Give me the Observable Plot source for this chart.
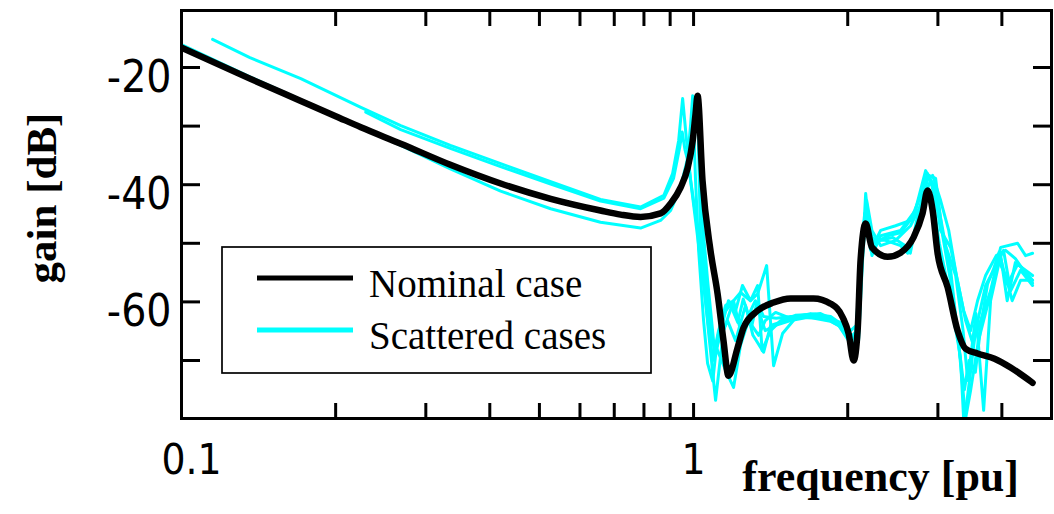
<!DOCTYPE html>
<html><head><meta charset="utf-8">
<script src="https://cdn.jsdelivr.net/npm/d3@7"></script>
<script src="https://cdn.jsdelivr.net/npm/@observablehq/plot@0.6"></script>
<style>body{margin:0;background:#fff}#chart{width:1054px;height:514px}</style>
</head><body><div id="chart"></div>
<script>
// [frequency (pu), gain (dB)]
const nominal = [[0.1,-16.6],[0.136,-21.9],[0.171,-25.7],[0.2,-28.3],[0.224,-30.2],[0.268,-33.0],[0.335,-36.6],[0.42,-39.8],[0.526,-42.4],[0.658,-44.4],[0.72,-45.1],[0.788,-45.5],[0.862,-44.9],[0.902,-43.2],[0.943,-40.5],[0.974,-37.1],[0.996,-32.5],[1.009,-27.9],[1.018,-24.8],[1.041,-39.3],[1.079,-51.2],[1.114,-58.6],[1.144,-66.6],[1.17,-72.6],[1.219,-67.8],[1.252,-64.4],[1.334,-61.5],[1.433,-60.1],[1.547,-59.4],[1.715,-59.4],[1.852,-60.3],[1.957,-62.7],[2.008,-65.4],[2.054,-70.0],[2.091,-64.9],[2.119,-52.9],[2.168,-46.6],[2.23,-50.7],[2.393,-52.3],[2.537,-51.6],[2.689,-49.0],[2.8,-44.9],[2.864,-41.0],[2.93,-44.4],[2.996,-51.7],[3.134,-57.5],[3.278,-64.9],[3.398,-68.0],[3.586,-68.8],[3.87,-69.7],[4.16,-71.2],[4.592,-73.8]];

const scattered1 = [[0.115,-15.2],[0.136,-18.3],[0.171,-21.9],[0.224,-26.8],[0.268,-29.9],[0.335,-33.3],[0.42,-36.4],[0.526,-39.5],[0.658,-42.5],[0.788,-43.8],[0.875,-41.8],[0.91,-38.1],[0.935,-32.5],[0.952,-25.3],[0.969,-32.5],[0.987,-39.3],[1.032,-51.2],[1.069,-64.9],[1.104,-76.8],[1.144,-64.9],[1.197,-59.8],[1.235,-58.4],[1.292,-59.8],[1.334,-58.6],[1.389,-53.8],[1.433,-70.9],[1.492,-65.4],[1.58,-62.8],[1.692,-62.3],[1.81,-62.8],[1.92,-64.0],[2.008,-66.6],[2.054,-68.3],[2.119,-58.1],[2.168,-41.5],[2.23,-52.1],[2.319,-48.7],[2.537,-47.8],[2.71,-44.4],[2.839,-37.6],[2.943,-40.1],[3.037,-47.8],[3.177,-50.7],[3.398,-63.2],[3.51,-67.1],[3.635,-63.2],[3.802,-58.1],[3.978,-50.7],[4.293,-50.0],[4.45,-52.1],[4.592,-51.7]];

const scattered2 = [[0.229,-27.6],[0.268,-30.6],[0.335,-33.8],[0.42,-36.9],[0.526,-39.9],[0.658,-42.8],[0.788,-44.1],[0.875,-42.3],[0.914,-38.9],[0.94,-33.5],[0.95,-31.0],[0.962,-34.0],[0.978,-36.5],[1.009,-46.1],[1.055,-59.8],[1.089,-70.0],[1.114,-67.1],[1.165,-63.2],[1.208,-66.6],[1.263,-60.6],[1.306,-65.7],[1.37,-68.6],[1.414,-64.0],[1.51,-63.2],[1.618,-62.3],[1.77,-62.0],[1.894,-63.2],[2.008,-65.7],[2.072,-65.7],[2.119,-54.6],[2.158,-44.9],[2.217,-50.4],[2.393,-48.7],[2.537,-48.2],[2.689,-45.3],[2.864,-38.1],[2.969,-41.0],[3.106,-50.4],[3.249,-55.5],[3.36,-64.9],[3.43,-73.4],[3.49,-68.3],[3.56,-62.0],[3.685,-78.5],[3.802,-59.8],[3.978,-52.1],[4.097,-59.8],[4.25,-53.3],[4.592,-55.5]];

const scattered3 = [[0.1,-16.1],[0.136,-21.6],[0.199,-28.1],[0.268,-33.3],[0.335,-37.3],[0.42,-41.1],[0.526,-44.1],[0.658,-46.4],[0.788,-47.4],[0.862,-46.1],[0.902,-44.4],[0.943,-40.5],[0.974,-35.4],[0.987,-29.6],[0.996,-24.8],[1.009,-39.3],[1.023,-51.2],[1.046,-63.2],[1.065,-70.5],[1.09,-73.5],[1.114,-66.0],[1.144,-62.0],[1.18,-60.5],[1.22,-63.5],[1.25,-59.5],[1.3,-64.0],[1.33,-60.0],[1.37,-62.5],[1.45,-62.8],[1.55,-62.5],[1.7,-62.7],[1.85,-63.3],[1.96,-64.5],[2.03,-66.0],[2.08,-65.0],[2.13,-50.0],[2.16,-45.5],[2.21,-49.0],[2.3,-49.5],[2.45,-49.0],[2.6,-50.5],[2.65,-51.7],[2.72,-46.5],[2.8,-42.0],[2.86,-40.5],[2.93,-42.5],[3.02,-50.0],[3.15,-58.0],[3.3,-68.0],[3.38,-75.0],[3.45,-70.0],[3.55,-72.0],[3.64,-64.0],[3.75,-57.0],[3.85,-54.5],[3.95,-51.5],[4.1,-57.0],[4.3,-53.5],[4.592,-56.3]];

const scattered4 = [[0.862,-44.9],[0.902,-43.2],[0.943,-40.5],[0.974,-37.1],[0.996,-32.5],[1.009,-28.0],[1.018,-25.0],[1.032,-42.7],[1.065,-56.3],[1.094,-66.6],[1.155,-71.7],[1.197,-74.6],[1.235,-67.4],[1.28,-63.2],[1.34,-65.7],[1.38,-63.2],[1.446,-61.8],[1.547,-62.8],[1.692,-62.0],[1.852,-62.5],[1.957,-64.0],[2.045,-67.4],[2.1,-66.6],[2.138,-52.9],[2.178,-42.7],[2.23,-47.8],[2.319,-50.4],[2.48,-49.5],[2.653,-47.0],[2.776,-43.5],[2.88,-38.4],[2.969,-38.9],[3.065,-48.7],[3.2,-58.1],[3.323,-70.0],[3.368,-79.9],[3.42,-76.8],[3.554,-64.9],[3.718,-57.2],[3.9,-53.8],[4.03,-51.2],[4.16,-58.1],[4.351,-54.6],[4.592,-57.2]];

const scattered5 = [[0.862,-44.9],[0.902,-43.2],[0.943,-40.5],[0.974,-37.1],[0.996,-32.5],[1.009,-28.0],[1.018,-25.2],[1.046,-51.2],[1.079,-64.9],[1.104,-69.1],[1.129,-64.9],[1.17,-59.8],[1.208,-61.5],[1.246,-57.2],[1.292,-59.8],[1.334,-57.2],[1.361,-68.3],[1.414,-64.9],[1.479,-63.2],[1.58,-62.3],[1.73,-62.1],[1.866,-62.8],[1.981,-64.9],[2.054,-66.2],[2.1,-63.2],[2.138,-47.8],[2.178,-44.4],[2.24,-49.5],[2.37,-49.5],[2.537,-50.4],[2.62,-51.7],[2.71,-47.8],[2.8,-42.7],[2.903,-39.3],[3.0,-44.4],[3.177,-54.6],[3.29,-66.6],[3.398,-79.9],[3.475,-75.1],[3.6,-66.6],[3.77,-59.8],[3.94,-52.9],[4.068,-55.5],[4.19,-59.8],[4.351,-56.3],[4.592,-56.3]];

const scattered6 = [[0.862,-44.9],[0.902,-43.2],[0.943,-40.5],[0.974,-37.1],[0.996,-32.5],[1.009,-28.0],[1.018,-25.3],[1.032,-49.5],[1.069,-63.2],[1.089,-70.0],[1.119,-64.9],[1.155,-60.6],[1.197,-59.8],[1.235,-64.9],[1.28,-62.3],[1.32,-59.8],[1.38,-64.9],[1.446,-64.0],[1.547,-63.2],[1.655,-62.7],[1.81,-62.7],[1.937,-63.5],[2.026,-64.9],[2.08,-64.0],[2.128,-49.5],[2.168,-46.1],[2.217,-51.2],[2.319,-47.8],[2.48,-47.0],[2.653,-46.1],[2.75,-42.7],[2.839,-39.3],[2.93,-38.4],[3.037,-42.7],[3.15,-47.8],[3.26,-55.5],[3.368,-61.5],[3.475,-64.9],[3.586,-59.8],[3.718,-55.5],[3.9,-52.1],[4.068,-51.2],[4.25,-52.6],[4.592,-56.8]];

const xMinorTicks = [0.2,0.3,0.4,0.5,0.6,0.7,0.8,0.9,1,2,3,4];
const xTickLabels = [0.1, 1];
const yMinorTicks = [-20,-30,-40,-50,-60,-70];
const yTickLabels = [-20,-40,-60];
const legendLabels = ["Nominal case", "Scattered cases"];
const xTitle = "frequency [pu]";
const yTitle = "gain [dB]";

const rows = (arr, id) => arr.map(([f, g]) => ({f, g, id}));
const scatteredRows = [scattered1, scattered2, scattered3, scattered4, scattered5, scattered6].flatMap((s, i) => rows(s, i + 1));
const nominalRows = rows(nominal, 0);

const tickFont = "'DejaVu Sans Condensed', 'DejaVu Sans', sans-serif";
const serif = "'Liberation Serif', 'Times New Roman', serif";
const empty = () => "";
const plain = d => String(d);

const plot = Plot.plot({
  width: 1054, height: 514,
  marginLeft: 181, marginRight: 3, marginTop: 10, marginBottom: 96,
  x: {type: "log", domain: [0.1, 5], label: null},
  y: {domain: [-79.9, -10.27], label: null},
  style: {background: "white", overflow: "visible"},
  marks: [
    Plot.line(scatteredRows, {x: "f", y: "g", z: "id", stroke: "#00ffff", strokeWidth: 3, clip: true, strokeLinejoin: "round"}),
    Plot.line(nominalRows, {x: "f", y: "g", stroke: "black", strokeWidth: 6.5, curve: "monotone-x", clip: true, strokeLinejoin: "round", strokeLinecap: "round"}),
    Plot.axisX({anchor: "bottom", ticks: xMinorTicks, tickSize: -15, strokeWidth: 3, tickFormat: empty, label: null}),
    Plot.axisX({anchor: "top", ticks: xMinorTicks, tickSize: -15, strokeWidth: 3, tickFormat: empty, label: null}),
    Plot.axisY({anchor: "left", ticks: yMinorTicks, tickSize: -19, strokeWidth: 3, tickFormat: empty, label: null}),
    Plot.axisY({anchor: "right", ticks: yMinorTicks, tickSize: -19, strokeWidth: 3, tickFormat: empty, label: null}),
    Plot.axisY({anchor: "left", ticks: yTickLabels, tickSize: 0, tickPadding: 17, dx: 7, dy: 10, fontSize: 44, fontFamily: tickFont, fill: "black", tickFormat: plain, label: null}),
    Plot.axisX({anchor: "bottom", ticks: [xTickLabels[0]], tickSize: 0, tickPadding: 26, dx: 10, fontSize: 42, fontFamily: tickFont, fill: "black", tickFormat: plain, label: null}),
    Plot.axisX({anchor: "bottom", ticks: [xTickLabels[1]], tickSize: 0, tickPadding: 26, fontSize: 42, fontFamily: tickFont, fill: "black", tickFormat: plain, label: null}),
    Plot.frame({stroke: "black", strokeWidth: 3})
  ]
});

const svg = d3.select(plot);
// axis titles
svg.append("text").attr("transform", "translate(56,198) rotate(-90)")
  .attr("text-anchor", "middle").attr("font-family", serif).attr("font-weight", "bold")
  .attr("font-size", 43).attr("fill", "black").text(yTitle);
svg.append("text").attr("x", 1019).attr("y", 491)
  .attr("text-anchor", "end").attr("font-family", serif).attr("font-weight", "bold")
  .attr("font-size", 44).attr("fill", "black").text(xTitle);

// legend box inside the plot area
const lg = svg.append("g").attr("class", "legend");
lg.append("rect").attr("x", 222).attr("y", 247).attr("width", 429).attr("height", 126)
  .attr("fill", "white").attr("stroke", "black").attr("stroke-width", 1.7);
const legendColors = ["black", "#00ffff"];
legendLabels.forEach((label, i) => {
  const yy = 278 + i * 52;
  lg.append("line").attr("x1", 257).attr("x2", 353).attr("y1", yy).attr("y2", yy)
    .attr("stroke", legendColors[i]).attr("stroke-width", 5);
  lg.append("text").attr("x", 369).attr("y", yy + 19).attr("text-anchor", "start").text(label)
    .attr("font-family", serif).attr("font-size", 39).attr("fill", "black");
});

document.getElementById("chart").appendChild(plot);
</script>
</body></html>
